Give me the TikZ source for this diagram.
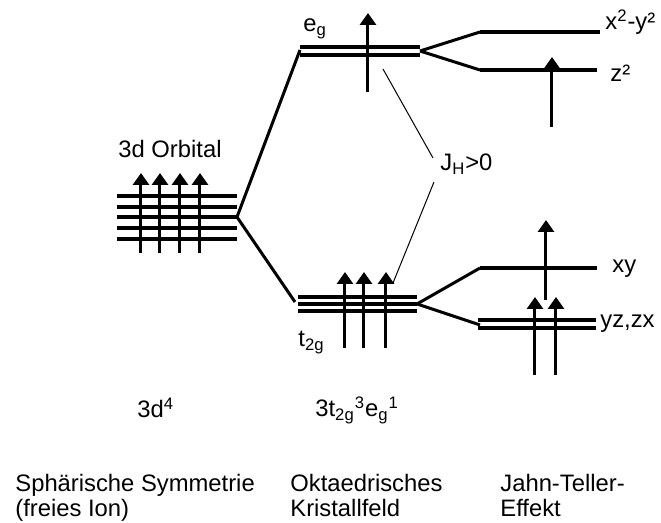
\documentclass[tikz,border=0pt]{standalone}
\usepackage{fontspec}
\setmainfont{Liberation Sans}
\usetikzlibrary{arrows.meta}

\begin{document}
\begin{tikzpicture}[
		x=0.5pt, y=-0.5pt,
		level/.style={
			line width=2pt
		},
		thinlevel/.style={
			line width=1.8pt
		},
		split/.style={
			line width=1.5pt
		},
		spin/.style={
			-{Triangle[length=6pt,width=8pt]},
			line width=1.5pt
		},
		hund/.style={
			line width=0.5pt
		},
		label/.style={
			anchor=base west,
			inner sep=0pt,
			align=left,
			font=\fontsize{11.9}{12.5}\selectfont
		}
		]
		
		\useasboundingbox (0,0) rectangle (661,523);
		
		% split points
		\coordinate (free) at (237,217);
		\coordinate (egL) at (300,50);
		\coordinate (egR) at (420,51);
		\coordinate (tgL) at (295,302);
		\coordinate (tgR) at (417,304);
		\coordinate (xyL) at (480,32);
		\coordinate (zL) at (480,70);
		\coordinate (xyzL) at (480,268);
		\coordinate (yzL) at (480,325);
		\coordinate (jhTop) at (433,158);
		\coordinate (jhBot) at (434,182);
		
		% free ion, 3d
		\draw[level] (117,196) -- (237,196);
		\draw[level] (117,207) -- (237,207);
		\draw[level] (117,217) -- (free);
		\draw[level] (117,228) -- (237,228);
		\draw[level] (117,239) -- (237,239);
		\draw[spin] (141,253) -- (141,173);
		\draw[spin] (160,253) -- (160,173);
		\draw[spin] (180,253) -- (180,173);
		\draw[spin] (200,253) -- (200,173);
		
		% octahedral field
		\draw[split] (free) -- (egL);
		\draw[split] (free) -- (tgL);
		\draw[level] (300,47) -- (420,47);
		\draw[level] (300,55) -- (420,55);
		\draw[spin] (368,92) -- (368,13);
		\draw[thinlevel] (298,297) -- (417,297);
		\draw[thinlevel] (298,304) -- (tgR);
		\draw[thinlevel] (298,311) -- (417,311);
		\draw[spin] (345,348) -- (345,272);
		\draw[spin] (364,348) -- (364,272);
		\draw[spin] (386,348) -- (386,272);
		
		% Jahn-Teller
		\draw[split] (egR) -- (xyL);
		\draw[split] (egR) -- (zL);
		\draw[level] (xyL) -- (600,32);
		\draw[level] (zL) -- (597,70);
		\draw[spin] (552,127) -- (552,57);
		\draw[split] (tgR) -- (xyzL);
		\draw[split] (tgR) -- (yzL);
		\draw[level] (xyzL) -- (597,268);
		\draw[thinlevel] (478,320) -- (596,320);
		\draw[thinlevel] (478,328) -- (596,328);
		\draw[spin] (546,300) -- (546,220);
		\draw[spin] (535,375) -- (535,297);
		\draw[spin] (556,375) -- (556,297);
		
		% labels
		\node[label] (orbital) at (118,158) {3d Orbital};
		\node[label] (eg) at (303,32) {e\textsubscript{g}};
		\node[label] (tg) at (298,347) {t\textsubscript{2g}};
		\node[label] (x2y2) at (605,30) {x\textsuperscript{2}-y²};
		\node[label] (z2) at (610,82) {z²};
		\node[label] (xy) at (612,273) {xy};
		\node[label] (yz) at (600,328) {yz,zx};
		\node[label] (jh) at (440,171) {J\textsubscript{H}>0};
		
		\draw[hund] (383,69) -- (jhTop);
		\draw[hund] (jhBot) -- (393,283);
		
		\node[label] (d4) at (137,418) {3d\textsuperscript{4}};
		\node[label] (config) at (315,417)
		{3t\textsubscript{2g}\textsuperscript{3}e\textsubscript{g}\textsuperscript{1}};
		
		\node[label] (sphere) at (15,517)
		{Sphärische Symmetrie\\(freies Ion)};
		\node[label] (octa) at (290,517)
		{Oktaedrisches\\Kristallfeld};
		\node[label] (jt) at (500,517)
		{Jahn-Teller-\\Effekt};
		
	\end{tikzpicture}
\end{document}
